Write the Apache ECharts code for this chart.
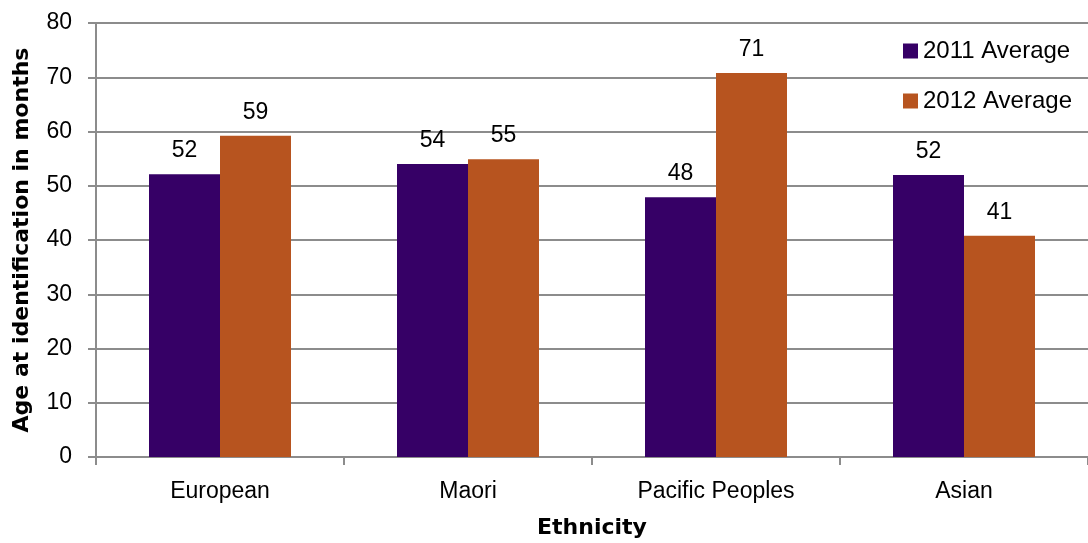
<!DOCTYPE html>
<html><head><meta charset="utf-8">
<script src="https://cdn.jsdelivr.net/npm/echarts@6/dist/echarts.min.js"></script>
<style>html,body{margin:0;padding:0;background:#fff}#c{width:1088px;height:543px}</style>
</head><body><div id="c"></div>
<script>
const categories = ['European', 'Maori', 'Pacific Peoples', 'Asian'];
const avg2011 = [52.1, 54.0, 47.9, 52.0];
const avg2012 = [59.2, 54.9, 70.8, 40.8];
const seriesNames = ['2011 Average', '2012 Average'];
const yTicks = [0, 10, 20, 30, 40, 50, 60, 70, 80];

const FONT = '"Liberation Sans", Arial, sans-serif';
const TFONT = '"DejaVu Sans", sans-serif';
const chart = echarts.init(document.getElementById('c'), null, {renderer: 'canvas'});
const gridColor = '#8c8c8c';
const labelCfg = {show: true, position: 'top', distance: 12, color: '#000', fontSize: 23, fontFamily: FONT,
  formatter: p => Math.round(p.value)};
chart.setOption({
  animation: false,
  textStyle: {fontFamily: FONT},
  grid: {left: 96, right: 0, top: 23, bottom: 86, containLabel: false, outerBoundsMode: 'none'},
  legend: {
    orient: 'vertical', right: 11, top: 34, itemGap: 26, itemWidth: 15, itemHeight: 15,
    icon: 'rect', textStyle: {fontSize: 24, color: '#000', fontFamily: FONT},
    data: seriesNames
  },
  xAxis: {
    type: 'category', data: categories,
    name: 'Ethnicity', nameLocation: 'middle', nameGap: 60,
    nameTextStyle: {fontSize: 22, fontWeight: 'bold', color: '#000', fontFamily: TFONT},
    axisLine: {lineStyle: {color: gridColor, width: 2}},
    axisTick: {show: true, length: 8, lineStyle: {color: gridColor, width: 2}},
    axisLabel: {fontSize: 23, color: '#000', margin: 23, fontFamily: FONT}
  },
  yAxis: {
    type: 'value', min: 0, max: 80, interval: 10,
    name: 'Age at identification in months', nameLocation: 'middle', nameGap: 63,
    nameTextStyle: {fontSize: 22, fontWeight: 'bold', color: '#000', fontFamily: TFONT},
    axisLine: {show: true, lineStyle: {color: gridColor, width: 2}},
    axisTick: {show: true, length: 8, lineStyle: {color: gridColor, width: 2}},
    axisLabel: {fontSize: 23, color: '#000', margin: 24, fontFamily: FONT,
      formatter: v => yTicks.includes(v) ? String(v) : ''},
    splitLine: {show: true, lineStyle: {color: gridColor, width: 2}}
  },
  series: [
    {name: seriesNames[0], type: 'bar', data: avg2011, barWidth: 71, barGap: '0%',
     itemStyle: {color: '#360066'}, label: labelCfg},
    {name: seriesNames[1], type: 'bar', data: avg2012, barWidth: 71,
     itemStyle: {color: '#B7541F'}, label: labelCfg}
  ]
});
</script></body></html>
